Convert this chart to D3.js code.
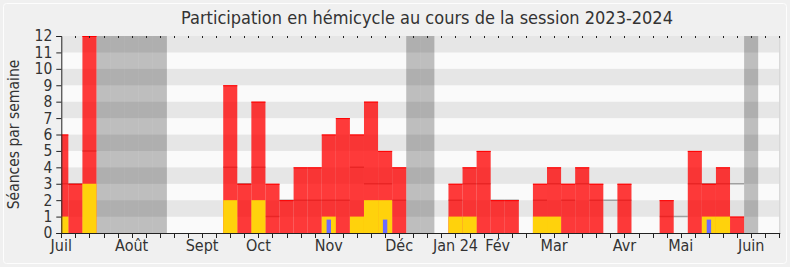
<!DOCTYPE html>
<html>
<head>
<meta charset="utf-8">
<script src="https://cdn.jsdelivr.net/npm/d3@7"></script>
<style>
    body { margin: 0; background: #f0f0f0; }
    text { font-family: "DejaVu Sans Condensed", "DejaVu Sans", sans-serif; fill: #333; }
</style>
</head>
<body>
<div id="chart"></div>
<script>
// semaines de la session (index 0 = première semaine de juillet 2023)
let semaines = d3.range(52);

// séances par semaine (présences en hémicycle)
let presences = [6, 3, 12, 0, 0, 0, 0, 0, 0, 0, 0, 0, 9, 3, 8, 3, 2, 4, 4, 6, 7, 6, 8, 5, 4, 0,
                 0, 0, 3, 4, 5, 2, 2, 0, 3, 4, 3, 4, 3, 0, 3, 0, 0, 2, 0, 5, 3, 4, 1, 0, 0, 0];
// interventions
let interventions = [1, 0, 3, 0, 0, 0, 0, 0, 0, 0, 0, 0, 2, 0, 2, 0, 0, 0, 0, 1, 0, 1, 2, 2, 0, 0,
                     0, 0, 1, 1, 0, 0, 0, 0, 1, 1, 0, 0, 0, 0, 0, 0, 0, 0, 0, 0, 1, 1, 0, 0, 0, 0];
// questions orales
let questions = [0, 0, 0, 0, 0, 0, 0, 0, 0, 0, 0, 0, 0, 0, 0, 0, 0, 0, 0, 1, 0, 0, 0, 1, 0, 0,
                 0, 0, 0, 0, 0, 0, 0, 0, 0, 0, 0, 0, 0, 0, 0, 0, 0, 0, 0, 0, 1, 0, 0, 0, 0, 0];
// médiane des députés
let mediane = [3, 3, 5, 0, 0, 0, 0, 0, 0, 0, 0, 0, 4, 3, 4, 1, 2, 2, 2, 2, 2, 4, 3, 3, 2, 0,
               0, 0, 2, 3, 3, 2, 2, 0, 2, 3, 2, 3, 2, 2, 2, 0, 0, 1, 1, 3, 3, 3, 3, 0, 0, 0];
// semaines de vacances parlementaires
let vacances = [3, 4, 5, 6, 7, 25, 26, 49];

let moisLabels = ["Juil", "Août", "Sept", "Oct", "Nov", "Déc", "Jan 24", "Fév", "Mar", "Avr", "Mai", "Juin"];
let moisSemaines = [0, 5, 10, 14, 19, 24, 28, 31, 35, 40, 44, 49];
let yTicks = d3.range(0, 13);

let width = 790, height = 267;
let plotLeft = 61.3, plotRight = 779.3, plotTop = 36, plotBottom = 233;

let svg = d3.select("#chart").append("svg")
    .attr("width", width)
    .attr("height", height);

// cadre
svg.append("rect")
    .attr("x", 0).attr("y", 0).attr("width", width).attr("height", height)
    .attr("fill", "#f0f0f0");
svg.append("rect")
    .attr("x", 3.5).attr("y", 3.5).attr("width", width - 7).attr("height", height - 7)
    .attr("rx", 3)
    .attr("fill", "none")
    .attr("stroke", "#fdfdfd");

let x = d3.scaleLinear().domain([0, 51]).range([plotLeft, plotRight]);
let y = d3.scaleLinear().domain([0, 12]).range([plotBottom, plotTop]);
let bw = x(1) - x(0);

svg.append("defs").append("clipPath").attr("id", "plotClip")
    .append("rect")
    .attr("x", plotLeft).attr("y", plotTop - 2)
    .attr("width", plotRight - plotLeft).attr("height", plotBottom - plotTop + 2);

let plot = svg.append("g").attr("clip-path", "url(#plotClip)");

// bandes horizontales
plot.selectAll(".band")
    .data(d3.range(0, 12))
    .join("rect")
    .attr("class", "band")
    .attr("x", plotLeft)
    .attr("width", plotRight - plotLeft)
    .attr("y", d => y(d + 1))
    .attr("height", d => y(d) - y(d + 1))
    .attr("fill", d => d % 2 === 1 ? "#e6e6e6" : "#fafafa");

// vacances
plot.selectAll(".vac")
    .data(vacances)
    .join("rect")
    .attr("class", "vac")
    .attr("x", d => x(d) - bw / 2)
    .attr("width", bw)
    .attr("y", plotTop)
    .attr("height", plotBottom - plotTop)
    .attr("fill", "#000")
    .attr("fill-opacity", 0.24);

// médiane
let medData = semaines.filter(i => mediane[i] > 0);
plot.selectAll(".medArea")
    .data(medData)
    .join("rect")
    .attr("class", "medArea")
    .attr("x", d => x(d) - bw / 2)
    .attr("width", bw)
    .attr("y", d => y(mediane[d]))
    .attr("height", d => y(0) - y(mediane[d]))
    .attr("fill", "#000")
    .attr("fill-opacity", 0.025);
plot.selectAll(".medLine")
    .data(medData)
    .join("line")
    .attr("class", "medLine")
    .attr("x1", d => x(d) - bw / 2)
    .attr("x2", d => x(d) + bw / 2)
    .attr("y1", d => y(mediane[d]))
    .attr("y2", d => y(mediane[d]))
    .attr("stroke", "#a0a0a0")
    .attr("stroke-width", 1.5);

// présences
let presData = semaines.filter(i => presences[i] > 0);
plot.selectAll(".pres")
    .data(presData)
    .join("rect")
    .attr("class", "pres")
    .attr("x", d => x(d) - bw / 2)
    .attr("width", bw)
    .attr("y", d => y(presences[d]))
    .attr("height", d => y(0) - y(presences[d]))
    .attr("fill", "#ff0000")
    .attr("fill-opacity", 0.77);
plot.selectAll(".presTop")
    .data(presData)
    .join("line")
    .attr("class", "presTop")
    .attr("x1", d => x(d) - bw / 2)
    .attr("x2", d => x(d) + bw / 2)
    .attr("y1", d => y(presences[d]) + 0.5)
    .attr("y2", d => y(presences[d]) + 0.5)
    .attr("stroke", "#ff0000")
    .attr("stroke-width", 1);

// interventions
plot.selectAll(".inter")
    .data(semaines.filter(i => interventions[i] > 0))
    .join("rect")
    .attr("class", "inter")
    .attr("x", d => x(d) - bw / 2)
    .attr("width", bw)
    .attr("y", d => y(interventions[d]))
    .attr("height", d => y(0) - y(interventions[d]))
    .attr("fill", "#ffd20c");

// questions
plot.selectAll(".quest")
    .data(semaines.filter(i => questions[i] > 0))
    .join("rect")
    .attr("class", "quest")
    .attr("x", d => x(d) - 2.2)
    .attr("width", 4.4)
    .attr("y", d => y(questions[d]) + 3)
    .attr("height", d => y(0) - y(questions[d]) - 3)
    .attr("fill", "#6b6bff");

// bord droit
svg.append("line")
    .attr("x1", plotRight + 0.5).attr("x2", plotRight + 0.5)
    .attr("y1", plotTop).attr("y2", plotBottom)
    .attr("stroke", "#cfcfcf");

// petits repères en haut
svg.selectAll(".topTick")
    .data(semaines.slice(1))
    .join("line")
    .attr("class", "topTick")
    .attr("x1", d => Math.round(x(d)) + 0.5)
    .attr("x2", d => Math.round(x(d)) + 0.5)
    .attr("y1", plotTop)
    .attr("y2", plotTop + 2)
    .attr("stroke", "#222");

// axe Y
let yAxis = d3.axisLeft(y)
    .tickValues(yTicks)
    .tickSize(5)
    .tickPadding(4);
let yAxisGroup = svg.append("g")
    .attr("transform", `translate(${plotLeft}, 0)`)
    .call(yAxis);
yAxisGroup.select(".domain").attr("stroke", "#222");
yAxisGroup.selectAll(".tick line").attr("stroke", "#222");
yAxisGroup.selectAll("text")
    .attr("font-size", "15.5px")
    .style("font-family", "DejaVu Sans Condensed, DejaVu Sans, sans-serif")
    .attr("fill", "#333");

// axe X
let xAxisGroup = svg.append("g")
    .attr("transform", `translate(0, ${plotBottom})`);
xAxisGroup.append("line")
    .attr("x1", plotLeft).attr("x2", plotRight + 1)
    .attr("y1", 0.5).attr("y2", 0.5)
    .attr("stroke", "#222");
xAxisGroup.selectAll(".xTick")
    .data(semaines)
    .join("line")
    .attr("class", "xTick")
    .attr("x1", d => Math.round(x(d)) + 0.5)
    .attr("x2", d => Math.round(x(d)) + 0.5)
    .attr("y1", 0)
    .attr("y2", 5)
    .attr("stroke", "#222");
xAxisGroup.selectAll(".xLabel")
    .data(moisLabels)
    .join("text")
    .attr("class", "xLabel")
    .attr("x", (d, i) => x(moisSemaines[i]))
    .attr("y", 18)
    .attr("text-anchor", "middle")
    .attr("font-size", "16px")
    .text(d => d);

// titres
svg.append("text")
    .attr("x", 427)
    .attr("y", 24)
    .attr("text-anchor", "middle")
    .attr("font-size", "18px")
    .text("Participation en hémicycle au cours de la session 2023-2024");

svg.append("text")
    .attr("transform", `translate(19, ${(plotTop + plotBottom) / 2}) rotate(-90)`)
    .attr("text-anchor", "middle")
    .attr("font-size", "15.5px")
    .text("Séances par semaine");
</script>
</body>
</html>
